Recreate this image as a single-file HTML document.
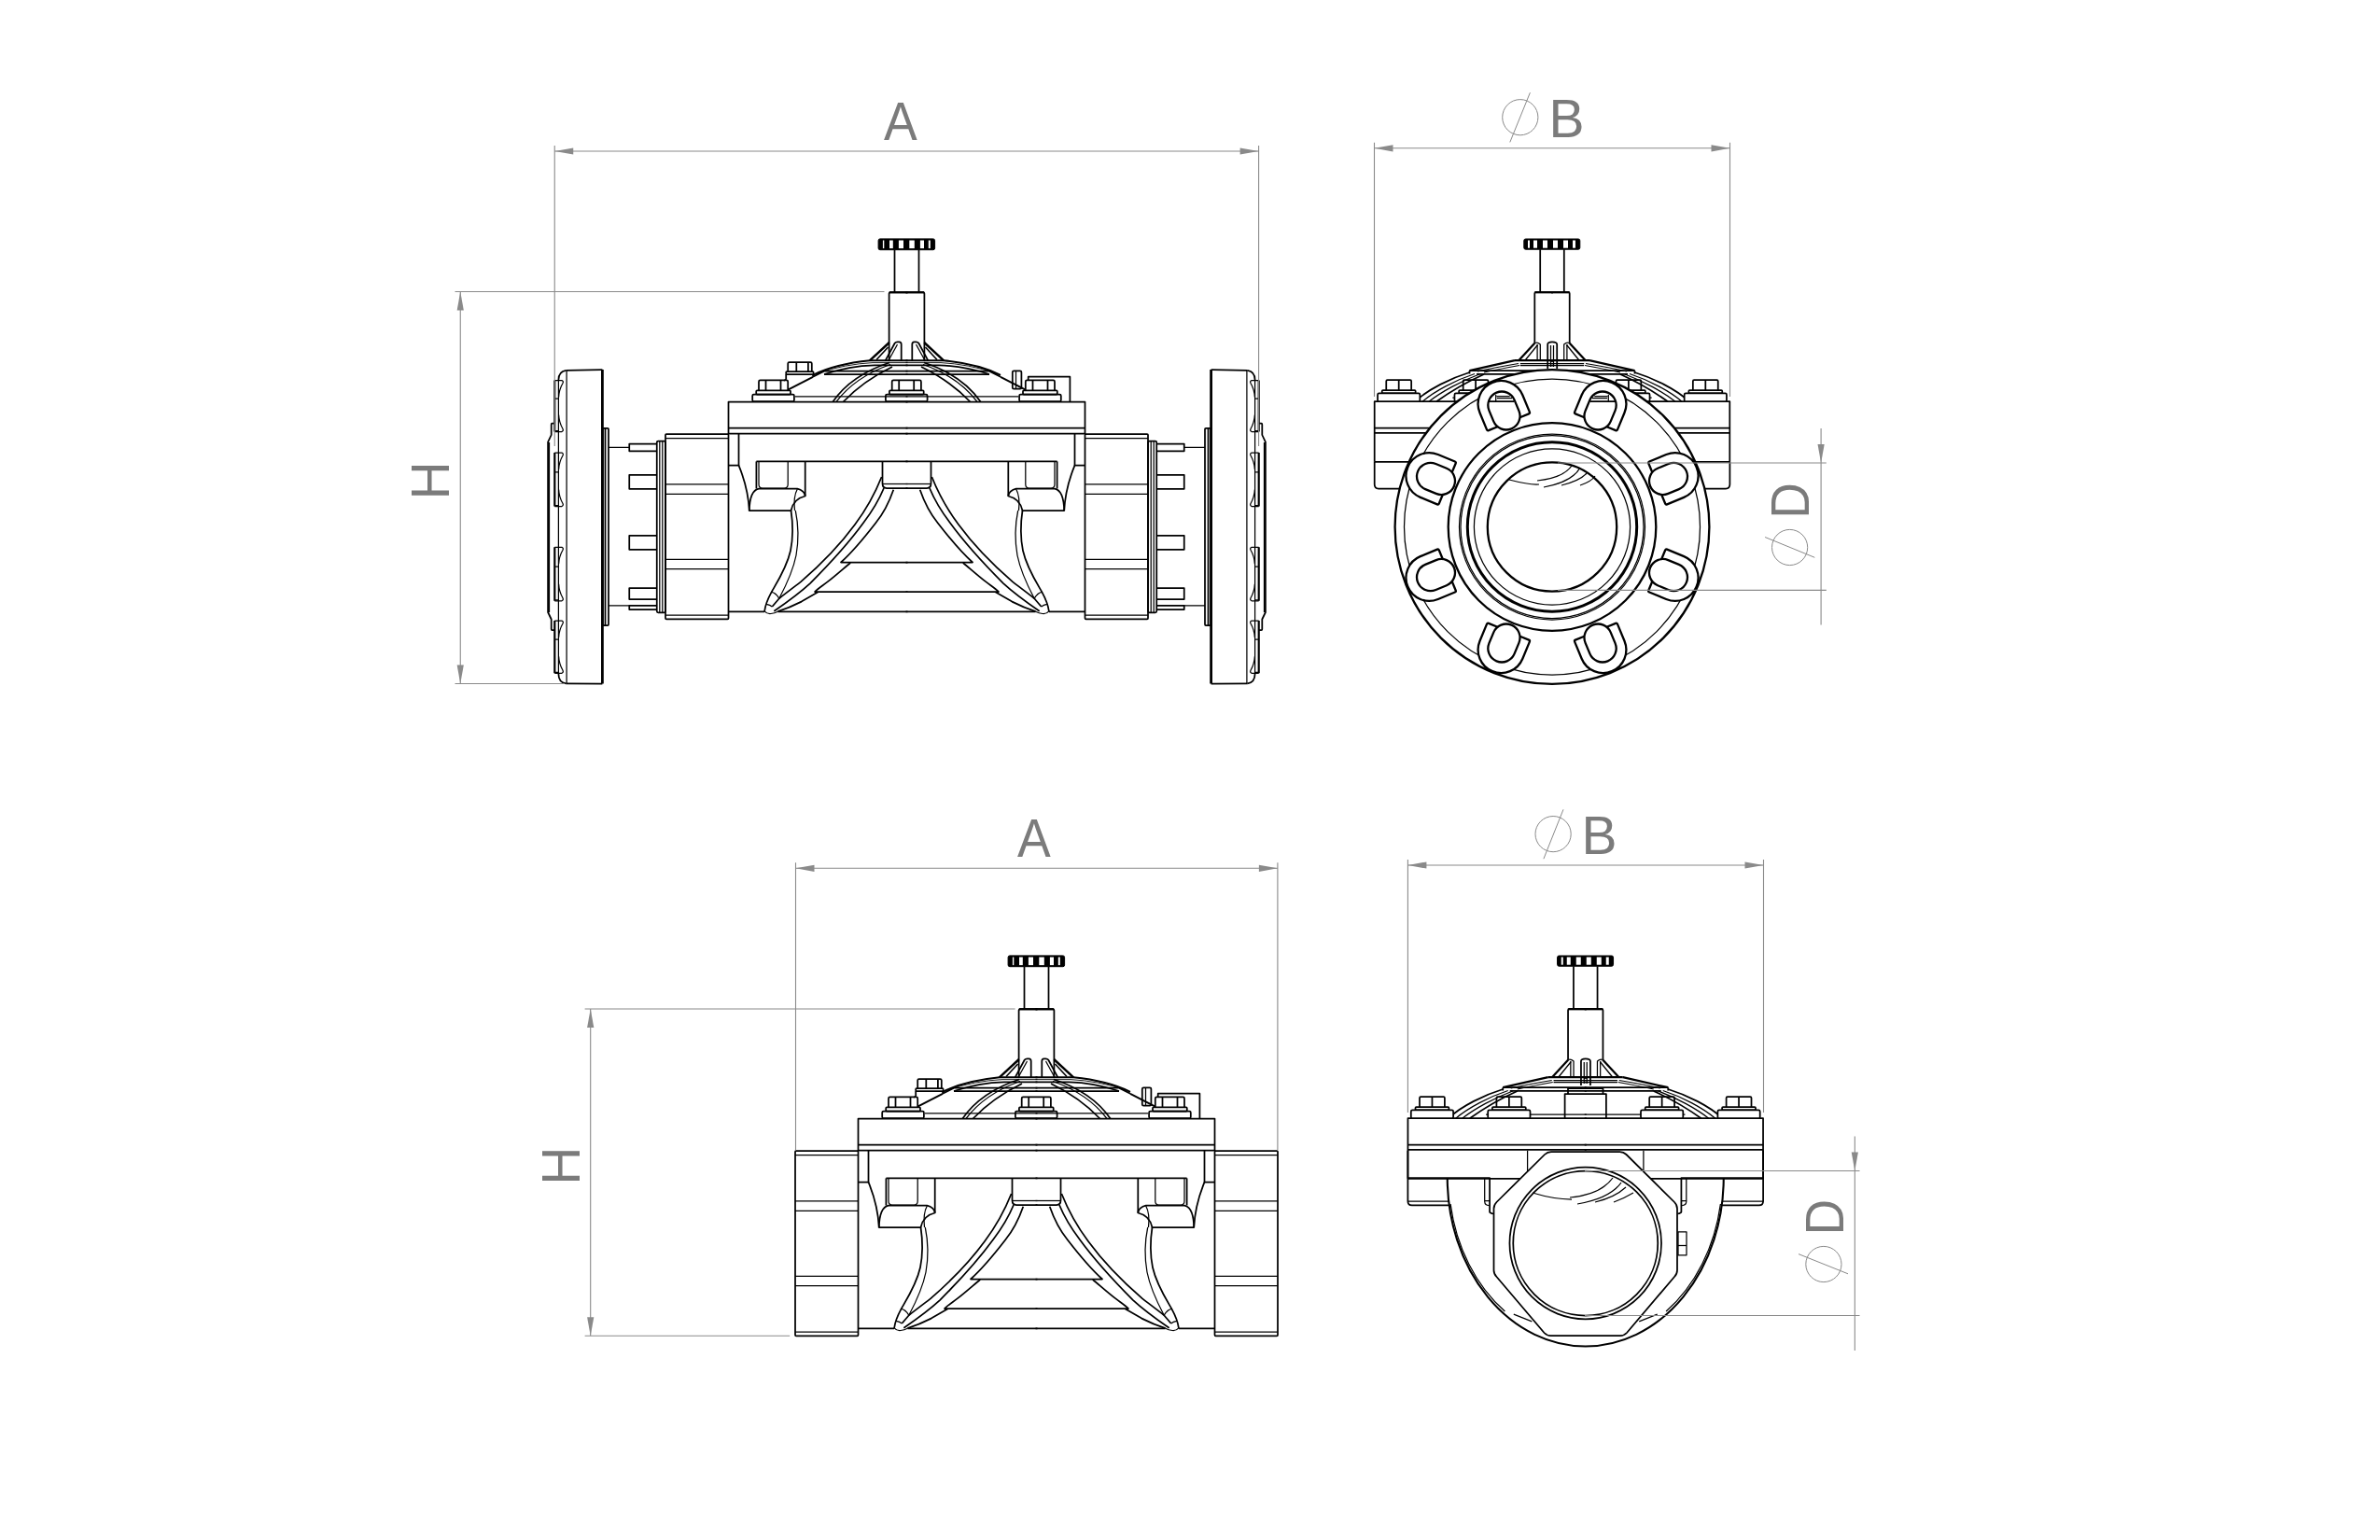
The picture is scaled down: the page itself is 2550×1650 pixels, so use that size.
<!DOCTYPE html>
<html><head><meta charset="utf-8"><style>
html,body{margin:0;padding:0;background:#fff;width:2550px;height:1650px;overflow:hidden;}
svg{display:block;}
</style></head><body>
<svg width="2550" height="1650" viewBox="0 0 2550 1650">
<defs>
<style>
.d { fill:none; stroke:#000; stroke-width:1.75; stroke-linejoin:round; stroke-linecap:butt; }
.t { stroke-width:1.25; }
.th { stroke-width:2.3; }
.k { fill:#000; stroke:#000; stroke-width:1; }
.dim { fill:none; stroke:#8a8a8a; stroke-width:1.1; }
.lt { fill:#7b7b7b; font-family:"Liberation Sans", sans-serif; }
</style>

<g id="sideHalf"><rect x="713" y="465" width="67.5" height="198.25" rx="1"/><line x1="713" y1="469.5" x2="780.5" y2="469.5" class="t"/><line x1="713" y1="518.75" x2="780.5" y2="518.75" class="t"/><line x1="713" y1="529.25" x2="780.5" y2="529.25" class="t"/><line x1="713" y1="599.25" x2="780.5" y2="599.25" class="t"/><line x1="713" y1="609.5" x2="780.5" y2="609.5" class="t"/><line x1="713" y1="659" x2="780.5" y2="659" class="t"/><path d="M780.5 464.5 V465"/><path d="M791.5 464.5 V498.6 H780.5"/><path d="M791.5 498.6 C797 512 802 530 802.8 547.5"/><path d="M810.4 494.4 H972.5"/><path d="M810.4 494.4 V523.5"/><path d="M813 494.4 V519 Q813 523 817 523 H840.2 Q844.2 523 844.2 519 V494.4" class="t"/><path d="M862.7 494.4 V531.5"/><path d="M802.8 547.5 C803 534 806 525 813 523.6 H854.3 C859 524.5 862.7 528 862.7 531.5 C856 533 849.5 538 847.5 547 H802.8"/><path d="M854.3 524 C851 530 850.5 538 851.5 547" class="t"/><path d="M847.5 547 C849.5 560 850 575 847 590 C843 608 832 625 826.6 634.4 C823 641 820 648 819.1 655"/><path d="M852.3 547 C855 560 856.5 575 853 595 C850 610 845 622 834.8 641.2" class="t"/><path d="M826.6 634.4 Q831 635 834.8 641.2 M821.1 647.3 Q825 648 827.3 650 M819.1 654.8 Q822 658 825.9 657.5 Q830 657 833.4 655.2" class="t"/><path d="M780.5 655.3 H819.1 M833.4 655.3 H972.5"/><path d="M945.5 494.4 V518 Q945.5 523 950 523 H972.5"/><path d="M945.5 518.5 H972.5" class="t"/><path d="M944.6 511 C935 535 925 550 916 562 C905 577 885 600 858 623.4 C848 631 840 637 834.8 641.2 L827.3 650"/><path d="M947 523 C940 540 932 551 925.2 560 C915 574 895 598 868.2 624.8 C855 637 842 646 829.3 654.8"/><path d="M957.3 524.8 C952 540 945 552 938.5 560 C930 571 915 590 901 602.5 H972.5"/><path d="M911.2 603 C905 608 895 617 886.6 623.4 C882 627 877 630 873 634 H972.5 M877 634 C870 638 865 641 858.7 644.6 C850 649 840 653 833.4 655.2"/><path d="M972.5 430.5 H780.5 V464.5 H972.5 M780.5 458.5 H972.5"/><path d="M972.5 313 H954 Q952.6 313 952.6 314.5 V386.5"/><path d="M972.5 313.3 H953" stroke-width="2.3"/><path d="M958.5 267.7 V313" /><path d="M952.75 367 L931.8 386.3" stroke-width="2.4"/><path d="M951.5 372 L939 385.5" stroke-width="1.6"/><path d="M948.6 386.3 L958.8 367.5 Q959.8 366.3 961.5 366.3 H963.5 Q965.7 366.3 965.7 369 V386.3"/><path d="M952 386.3 L961.5 369" class="t"/><path d="M844.7 417.3 L871 403.8" stroke-width="2"/><path d="M871 401.8 Q895 390 932 386.3 H972.5" stroke-width="2"/><path d="M871 403.8 L883 397.6 H972.5 M883 401 H972.5"/><path d="M875 400 Q906 390 935 388.6 H972.5" stroke-width="0.9"/><path d="M883 401 Q910 392 937 391.3 H972.5"/><path d="M852 424.8 H972.5" class="t"/><path d="M892.3 430.5 Q912 402 953 388.5"/><path d="M896 430.5 Q916 404 954 390.5" class="t"/><path d="M903.5 430.5 Q925 408 956 393"/><path d="M813 418.4 V408.9 Q813 407.4 814.5 407.4 H842.7 Q844.2 407.4 844.2 408.9 V418.4"/><path d="M820.5 407.4 V418.4 M836.5 407.4 V418.4"/><rect x="810.2" y="418.4" width="36.8" height="4.2" rx="1"/><rect x="806.2" y="422.59999999999997" width="44.7" height="7.6" rx="1.5"/></g>
<g id="side">
  <use href="#sideHalf"/>
  <use href="#sideHalf" transform="translate(1943.0,0) scale(-1,1)"/>
  <path d="M955.7 418.4 V408.9 Q955.7 407.4 957.2 407.4 H985.4000000000001 Q986.9000000000001 407.4 986.9000000000001 408.9 V418.4"/><path d="M963.2 407.4 V418.4 M979.2 407.4 V418.4"/><rect x="952.9000000000001" y="418.4" width="36.8" height="4.2" rx="1"/><rect x="948.9000000000001" y="422.59999999999997" width="44.7" height="7.6" rx="1.5"/><path d="M869.8 398 V389.6 Q869.8 388.1 868.3 388.1 H845.7 Q844.2 388.1 844.2 389.6 V398"/><path d="M853.3 388.1 V398 M865.9 388.1 V398"/><rect x="842.2" y="398.2" width="29.4" height="2.8" rx="0.8" fill="#fff"/><path d="M842.2 401 V406 Q842 407.6 839.9 407.6 M871.1 401 V403.6"/><path d="M1101.7 407.4 V403.7 H1146.4 V430.5"/><rect x="1084.8" y="397.3" width="9.6" height="19.4" rx="1.5"/><path d="M1088.5 398 V416" class="t"/><rect x="941.1" y="255.9" width="60.5" height="11.8" rx="1.8" class="k"/><rect x="945.9" y="257.5" width="1.3999999999999773" height="8.6" fill="#fff" stroke="none"/><rect x="953" y="257.5" width="3.7999999999999545" height="8.6" fill="#fff" stroke="none"/><rect x="962.9" y="257.5" width="5.100000000000023" height="8.6" fill="#fff" stroke="none"/><rect x="974.3" y="257.5" width="5.5" height="8.6" fill="#fff" stroke="none"/><rect x="985.9" y="257.5" width="4.100000000000023" height="8.6" fill="#fff" stroke="none"/><rect x="994.8" y="257.5" width="2.0" height="8.6" fill="#fff" stroke="none"/>
</g>

<g id="endHalf"><path d="M1664 312.9 H1645.7 Q1644.3 312.9 1644.3 314.4 V367.5"/><path d="M1664 313.2 H1644.8" stroke-width="2.3"/><path d="M1650.2 267.2 V312.9"/><path d="M1644.5 367.5 L1627.2 386.2" class="th"/><path d="M1647.5 369.5 L1634.5 385.5" class="t"/><path d="M1644.5 367.5 Q1647.5 366.5 1650.3 369 V386.2 M1647.1 369 V386.2" class="t"/><path d="M1623 386.2 H1664" class="th"/><path d="M1628.8 389.5 H1664 M1628.8 391.5 H1664" class="t"/><path d="M1623 386.2 L1574.5 397.2" class="th"/><path d="M1627 389.5 Q1600 394 1583 398 M1628 391.5 Q1605 395.5 1590 399" class="t"/><path d="M1574.5 397.2 H1664 M1574.5 397.2 V400.5 M1582 400.8 H1664" /><path d="M1574.5 399 C1555 405 1530 417 1516.5 430" /><path d="M1580 400.5 C1560 407 1537 419 1524 430.3 M1585 401 C1566 408 1544 420 1531 430.3" class="t"/><path d="M1590 401 C1572 409 1552 421 1539 430.3" /><path d="M1556.3 426 H1664" class="t"/><path d="M1664 430.1 H1472.7 V494.8"/><path d="M1472.7 458.5 H1664 M1472.7 463.9 H1664 M1472.7 494.8 H1664"/><path d="M1485.25 418.0 V408.4 Q1485.25 407.2 1486.45 407.2 H1510.95 Q1512.15 407.2 1512.15 408.4 V418.0"/><path d="M1498.7 407.2 V418.0"/><rect x="1480.75" y="418.0" width="35.9" height="3.4" rx="1" fill="#fff"/><rect x="1476.05" y="421.4" width="45.3" height="8.8" rx="1.5" fill="#fff"/><path d="M1567.65 418.0 V408.4 Q1567.65 407.2 1568.8500000000001 407.2 H1593.3500000000001 Q1594.5500000000002 407.2 1594.5500000000002 408.4 V418.0"/><path d="M1581.1000000000001 407.2 V418.0"/><rect x="1563.15" y="418.0" width="35.9" height="3.4" rx="1" fill="#fff"/><rect x="1558.45" y="421.4" width="45.3" height="8.8" rx="1.5" fill="#fff"/></g>
<g id="endTop">
  <use href="#endHalf"/>
  <use href="#endHalf" transform="translate(3326.0,0) scale(-1,1)"/>
  <path d="M1658.2 395 V369 Q1658.2 366.3 1663 366.3 Q1668.2 366.3 1668.2 369 V395" /><path d="M1661.5 370 V393 M1664.5 370 V393 M1661.5 387 H1664.5" class="t"/>
  <rect x="1632.8" y="256" width="60" height="11.2" rx="1.8" class="k"/>
  <rect x="1637" y="257.5" width="2" height="8.2" fill="#fff" stroke="none"/>
  <rect x="1643" y="257.5" width="4" height="8.2" fill="#fff" stroke="none"/>
  <rect x="1653" y="257.5" width="5" height="8.2" fill="#fff" stroke="none"/>
  <rect x="1664" y="257.5" width="5" height="8.2" fill="#fff" stroke="none"/>
  <rect x="1675" y="257.5" width="5" height="8.2" fill="#fff" stroke="none"/>
  <rect x="1685" y="257.5" width="3" height="8.2" fill="#fff" stroke="none"/>
</g>

</defs>
<rect width="2550" height="1650" fill="#fff"/>
<g class="d">
  <use href="#side"/>
  <rect x="703.75" y="472.5" width="9.25" height="183.75" rx="1.5"/><path d="M706.8 473 V656 M709.8 473 V656" class="t"/><path d="M703.75 475.5 H674.25 V483.25 H703.75"/><path d="M703.75 508.75 H674.25 V523.75 H703.75"/><path d="M703.75 573.75 H674.25 V588.75 H703.75"/><path d="M703.75 630 H674.25 V642 H703.75"/><path d="M703.75 648.75 H674.25 V653 H703.75"/><path d="M652 479.25 H674.25 M652 648.75 H674.25" class="t"/><rect x="645.75" y="458.75" width="6.25" height="211.25" rx="1"/><path d="M648.5 459 V670"/><path d="M606.4 396.8 L645.4 396.1"/><path d="M645.4 396.1 V732.6" stroke-width="2.8"/><path d="M606.4 732.4 L645.4 732.6"/><path d="M606.4 396.8 Q598.4 398 598.4 407 M606.4 732.4 Q598.4 731 598.4 722"/><path d="M607.1 396.8 V732.4" class="t"/><path d="M598.4 407 V722" class="t"/><path d="M594.3 407.5 V462.5" stroke-width="2.2"/><path d="M594.3 407.5 H602 Q604 408.5 603 410.5 Q599 417.5 598.6 425.5 M594.3 462.5 H602 Q604 461.5 603 459.5 Q599 452.5 598.6 444.5" class="t"/><path d="M594.3 427.0 H598 M594.3 461.5 H598" class="t"/><path d="M594.3 485 V542.5" stroke-width="2.2"/><path d="M594.3 485 H602 Q604 486 603 488 Q599 495 598.6 503 M594.3 542.5 H602 Q604 541.5 603 539.5 Q599 532.5 598.6 524.5" class="t"/><path d="M594.3 505.75 H598 M594.3 541.5 H598" class="t"/><path d="M594.3 586.25 V643.75" stroke-width="2.2"/><path d="M594.3 586.25 H602 Q604 587.25 603 589.25 Q599 596.25 598.6 604.25 M594.3 643.75 H602 Q604 642.75 603 640.75 Q599 633.75 598.6 625.75" class="t"/><path d="M594.3 607.0 H598 M594.3 642.75 H598" class="t"/><path d="M594.3 665 V721.25" stroke-width="2.2"/><path d="M594.3 665 H602 Q604 666 603 668 Q599 675 598.6 683 M594.3 721.25 H602 Q604 720.25 603 718.25 Q599 711.25 598.6 703.25" class="t"/><path d="M594.3 685.125 H598 M594.3 720.25 H598" class="t"/><path d="M594 453.6 H591.5 Q590.7 453.6 590.7 455 V466 L587.1 473.6 V656 L590.7 663.5 V674 Q590.7 675 591.5 675 H594"/><path d="M588.5 474 V656" class="t"/>
  <g transform="translate(1943.0,0) scale(-1,1)"><rect x="703.75" y="472.5" width="9.25" height="183.75" rx="1.5"/><path d="M706.8 473 V656 M709.8 473 V656" class="t"/><path d="M703.75 475.5 H674.25 V483.25 H703.75"/><path d="M703.75 508.75 H674.25 V523.75 H703.75"/><path d="M703.75 573.75 H674.25 V588.75 H703.75"/><path d="M703.75 630 H674.25 V642 H703.75"/><path d="M703.75 648.75 H674.25 V653 H703.75"/><path d="M652 479.25 H674.25 M652 648.75 H674.25" class="t"/><rect x="645.75" y="458.75" width="6.25" height="211.25" rx="1"/><path d="M648.5 459 V670"/><path d="M606.4 396.8 L645.4 396.1"/><path d="M645.4 396.1 V732.6" stroke-width="2.8"/><path d="M606.4 732.4 L645.4 732.6"/><path d="M606.4 396.8 Q598.4 398 598.4 407 M606.4 732.4 Q598.4 731 598.4 722"/><path d="M607.1 396.8 V732.4" class="t"/><path d="M598.4 407 V722" class="t"/><path d="M594.3 407.5 V462.5" stroke-width="2.2"/><path d="M594.3 407.5 H602 Q604 408.5 603 410.5 Q599 417.5 598.6 425.5 M594.3 462.5 H602 Q604 461.5 603 459.5 Q599 452.5 598.6 444.5" class="t"/><path d="M594.3 427.0 H598 M594.3 461.5 H598" class="t"/><path d="M594.3 485 V542.5" stroke-width="2.2"/><path d="M594.3 485 H602 Q604 486 603 488 Q599 495 598.6 503 M594.3 542.5 H602 Q604 541.5 603 539.5 Q599 532.5 598.6 524.5" class="t"/><path d="M594.3 505.75 H598 M594.3 541.5 H598" class="t"/><path d="M594.3 586.25 V643.75" stroke-width="2.2"/><path d="M594.3 586.25 H602 Q604 587.25 603 589.25 Q599 596.25 598.6 604.25 M594.3 643.75 H602 Q604 642.75 603 640.75 Q599 633.75 598.6 625.75" class="t"/><path d="M594.3 607.0 H598 M594.3 642.75 H598" class="t"/><path d="M594.3 665 V721.25" stroke-width="2.2"/><path d="M594.3 665 H602 Q604 666 603 668 Q599 675 598.6 683 M594.3 721.25 H602 Q604 720.25 603 718.25 Q599 711.25 598.6 703.25" class="t"/><path d="M594.3 685.125 H598 M594.3 720.25 H598" class="t"/><path d="M594 453.6 H591.5 Q590.7 453.6 590.7 455 V466 L587.1 473.6 V656 L590.7 663.5 V674 Q590.7 675 591.5 675 H594"/><path d="M588.5 474 V656" class="t"/></g>
  <use href="#side" transform="translate(139,768)"/>
  <use href="#endTop"/>
  <use href="#endTop" transform="translate(35.75,768)"/>
  <path d="M1472.7 494.8 V519 Q1472.7 523.5 1477 523.5 H1849 Q1853.4 523.5 1853.4 519 V494.8"/><circle cx="1663.0" cy="564.5" r="168.4" fill="#fff" class="th"/><circle cx="1663.0" cy="564.5" r="158.5" class="t"/><circle cx="1663.0" cy="564.5" r="111.3" class="th"/><circle cx="1663.0" cy="564.5" r="99.5" class="t"/><circle cx="1663.0" cy="564.5" r="98" class="t"/><circle cx="1663.0" cy="564.5" r="90.7" stroke-width="3"/><circle cx="1663.0" cy="564.5" r="83.6" class="t"/><circle cx="1663.0" cy="564.5" r="69.2" class="th"/><path d="M1617 514 Q1640 520 1649 519" class="t"/><path d="M1647 515 Q1675 512 1684 499 M1654 522 Q1685 516 1693 501 M1673 520 Q1693 515 1700 507 M1693 520 Q1705 516 1709 510" class="t"/><g transform="translate(1663.0,564.5) rotate(-157.5)"><path d="M-13 -121.5 H-24.8 V-142.6 A24.8 24.8 0 0 1 24.8 -142.6 V-121.5 H13 Z" fill="#fff" stroke="none"/><path d="M-13 -121.5 H-23.3 Q-24.8 -121.5 -24.8 -123 V-142.6 A24.8 24.8 0 0 1 24.8 -142.6 V-123 Q24.8 -121.5 23.3 -121.5 H13" class="th"/><path d="M-14.7 -128.5 V-141 A14.7 14.7 0 0 1 14.7 -141 V-128.5 A14.7 14.7 0 0 1 -14.7 -128.5 Z" fill="#fff" class="th"/></g><g transform="translate(1663.0,564.5) rotate(-112.5)"><path d="M-13 -121.5 H-24.8 V-142.6 A24.8 24.8 0 0 1 24.8 -142.6 V-121.5 H13 Z" fill="#fff" stroke="none"/><path d="M-13 -121.5 H-23.3 Q-24.8 -121.5 -24.8 -123 V-142.6 A24.8 24.8 0 0 1 24.8 -142.6 V-123 Q24.8 -121.5 23.3 -121.5 H13" class="th"/><path d="M-14.7 -128.5 V-141 A14.7 14.7 0 0 1 14.7 -141 V-128.5 A14.7 14.7 0 0 1 -14.7 -128.5 Z" fill="#fff" class="th"/></g><g transform="translate(1663.0,564.5) rotate(-67.5)"><path d="M-13 -121.5 H-24.8 V-142.6 A24.8 24.8 0 0 1 24.8 -142.6 V-121.5 H13 Z" fill="#fff" stroke="none"/><path d="M-13 -121.5 H-23.3 Q-24.8 -121.5 -24.8 -123 V-142.6 A24.8 24.8 0 0 1 24.8 -142.6 V-123 Q24.8 -121.5 23.3 -121.5 H13" class="th"/><path d="M-14.7 -128.5 V-141 A14.7 14.7 0 0 1 14.7 -141 V-128.5 A14.7 14.7 0 0 1 -14.7 -128.5 Z" fill="#fff" class="th"/></g><g transform="translate(1663.0,564.5) rotate(-22.5)"><path d="M-13 -121.5 H-24.8 V-142.6 A24.8 24.8 0 0 1 24.8 -142.6 V-121.5 H13 Z" fill="#fff" stroke="none"/><path d="M-13 -121.5 H-23.3 Q-24.8 -121.5 -24.8 -123 V-142.6 A24.8 24.8 0 0 1 24.8 -142.6 V-123 Q24.8 -121.5 23.3 -121.5 H13" class="th"/><path d="M-14.7 -128.5 V-141 A14.7 14.7 0 0 1 14.7 -141 V-128.5 A14.7 14.7 0 0 1 -14.7 -128.5 Z" fill="#fff" class="th"/></g><g transform="translate(1663.0,564.5) rotate(22.5)"><path d="M-13 -121.5 H-24.8 V-142.6 A24.8 24.8 0 0 1 24.8 -142.6 V-121.5 H13 Z" fill="#fff" stroke="none"/><path d="M-13 -121.5 H-23.3 Q-24.8 -121.5 -24.8 -123 V-142.6 A24.8 24.8 0 0 1 24.8 -142.6 V-123 Q24.8 -121.5 23.3 -121.5 H13" class="th"/><path d="M-14.7 -128.5 V-141 A14.7 14.7 0 0 1 14.7 -141 V-128.5 A14.7 14.7 0 0 1 -14.7 -128.5 Z" fill="#fff" class="th"/></g><g transform="translate(1663.0,564.5) rotate(67.5)"><path d="M-13 -121.5 H-24.8 V-142.6 A24.8 24.8 0 0 1 24.8 -142.6 V-121.5 H13 Z" fill="#fff" stroke="none"/><path d="M-13 -121.5 H-23.3 Q-24.8 -121.5 -24.8 -123 V-142.6 A24.8 24.8 0 0 1 24.8 -142.6 V-123 Q24.8 -121.5 23.3 -121.5 H13" class="th"/><path d="M-14.7 -128.5 V-141 A14.7 14.7 0 0 1 14.7 -141 V-128.5 A14.7 14.7 0 0 1 -14.7 -128.5 Z" fill="#fff" class="th"/></g><g transform="translate(1663.0,564.5) rotate(112.5)"><path d="M-13 -121.5 H-24.8 V-142.6 A24.8 24.8 0 0 1 24.8 -142.6 V-121.5 H13 Z" fill="#fff" stroke="none"/><path d="M-13 -121.5 H-23.3 Q-24.8 -121.5 -24.8 -123 V-142.6 A24.8 24.8 0 0 1 24.8 -142.6 V-123 Q24.8 -121.5 23.3 -121.5 H13" class="th"/><path d="M-14.7 -128.5 V-141 A14.7 14.7 0 0 1 14.7 -141 V-128.5 A14.7 14.7 0 0 1 -14.7 -128.5 Z" fill="#fff" class="th"/></g><g transform="translate(1663.0,564.5) rotate(157.5)"><path d="M-13 -121.5 H-24.8 V-142.6 A24.8 24.8 0 0 1 24.8 -142.6 V-121.5 H13 Z" fill="#fff" stroke="none"/><path d="M-13 -121.5 H-23.3 Q-24.8 -121.5 -24.8 -123 V-142.6 A24.8 24.8 0 0 1 24.8 -142.6 V-123 Q24.8 -121.5 23.3 -121.5 H13" class="th"/><path d="M-14.7 -128.5 V-141 A14.7 14.7 0 0 1 14.7 -141 V-128.5 A14.7 14.7 0 0 1 -14.7 -128.5 Z" fill="#fff" class="th"/></g><path d="M1596 430.1 H1622 M1704 430.1 H1730"/><path d="M1603.6 424.5 H1617.7 M1604 426.6 H1620 M1602.7 423 V430 M1708.3 424.5 H1722.4 M1706 426.6 H1722 M1723.3 423 V430" class="t"/>
  <path d="M1508.4 1232.7 V1287 Q1508.4 1291.4 1512.8 1291.4 H1552.5 M1889.1 1232.7 V1287 Q1889.1 1291.4 1884.7 1291.4 H1845"/><path d="M1508.4 1287 H1552.5 M1889.1 1287 H1845" class="t"/><path d="M1508.4 1262 H1596.1 V1298.6 Q1596.5 1300 1600 1300.5 M1889.1 1262 H1801.4 V1298.6 Q1801 1300 1797.5 1300.5"/><path d="M1590.7 1262 V1287.5 Q1591 1291.5 1595.4 1291.5 M1590.7 1286.7 H1596.1 M1806.8 1262 V1287.5 Q1806.5 1291.5 1802.1 1291.5 M1806.8 1286.7 H1801.4" class="t"/><path d="M1550.75 1262 A148 180.5 0 0 0 1698.75 1442.5 A148 180.5 0 0 0 1846.75 1262" stroke-width="2.1"/><path d="M1554.1 1290 A146.5 177 0 0 0 1612.4 1405 M1843.4 1290 A146.5 177 0 0 1 1785.1 1405 M1621.8 1408.1 L1641.3 1415.9 M1775.7 1408.1 L1756.2 1415.9" class="t"/><path d="M1662 1234.1 H1735.5 Q1739.5 1234.1 1742.5 1237 L1794 1288 Q1797 1291 1797 1295 V1361 Q1797 1365 1794 1368 L1743 1428 Q1740 1431.1 1736 1431.1 H1661.5 Q1657.5 1431.1 1654.5 1428 L1603.5 1368 Q1600.5 1365 1600.5 1361 V1295 Q1600.5 1291 1603.5 1288 L1655 1237 Q1658 1234.1 1662 1234.1 Z" fill="#fff"/><path d="M1636.6 1232.7 V1255 M1760.9 1232.7 V1255" class="t"/><circle cx="1698.75" cy="1332" r="81.3"/><circle cx="1698.75" cy="1332" r="77.5"/><path d="M1642 1278 Q1665 1285 1684 1285 M1682 1283 Q1715 1280 1728 1262 M1690 1290 Q1725 1284 1737 1267 M1709 1288 Q1730 1283 1742 1272 M1729 1288 Q1740 1284 1750 1278" class="t"/><rect x="1798" y="1319.8" width="9" height="25" class="t"/><path d="M1798 1334.5 H1807" class="t"/><path d="M1676.6 1198.2 V1172 H1720.9 V1198.2 M1680 1172 V1166 H1717.5 V1172" />
</g>
<g class="dim"><path d="M594.25 156 V478 M1348.6 156 V478 M594.25 162 H1348.6"/><polygon points="594.25,162 614.25,158.4 614.25,165.6" fill="#8a8a8a" stroke="none"/><polygon points="1348.6,162 1328.6,158.4 1328.6,165.6" fill="#8a8a8a" stroke="none"/><path d="M487.5 312.5 H947.5 M487.5 732.5 H605 M493.25 312.5 V732.5"/><polygon points="493.25,312.5 489.65,332.5 496.85,332.5" fill="#8a8a8a" stroke="none"/><polygon points="493.25,732.5 489.65,712.5 496.85,712.5" fill="#8a8a8a" stroke="none"/><path d="M1472.5 152.8 V425 M1853.5 152.8 V425 M1472.5 158.8 H1853.5"/><polygon points="1472.5,158.8 1492.5,155.20000000000002 1492.5,162.4" fill="#8a8a8a" stroke="none"/><polygon points="1853.5,158.8 1833.5,155.20000000000002 1833.5,162.4" fill="#8a8a8a" stroke="none"/><path d="M1669 496 H1956.8 M1669 632.4 H1956.8 M1951.1 458.9 V669.5"/><polygon points="1951.1,496 1947.5,476 1954.6999999999998,476" fill="#8a8a8a" stroke="none"/><path d="M852.5 924.2 V1232 M1368.9 924.2 V1232 M852.5 930.3 H1368.9"/><polygon points="852.5,930.3 872.5,926.6999999999999 872.5,933.9" fill="#8a8a8a" stroke="none"/><polygon points="1368.9,930.3 1348.9,926.6999999999999 1348.9,933.9" fill="#8a8a8a" stroke="none"/><path d="M626.6 1081 H1087.6 M626.6 1431.2 H846.2 M632.7 1081 V1431.2"/><polygon points="632.7,1081 629.1,1101 636.3000000000001,1101" fill="#8a8a8a" stroke="none"/><polygon points="632.7,1431.2 629.1,1411.2 636.3000000000001,1411.2" fill="#8a8a8a" stroke="none"/><path d="M1508.4 920.9 V1192 M1889.5 920.9 V1192 M1508.4 927 H1889.5"/><polygon points="1508.4,927 1528.4,923.4 1528.4,930.6" fill="#8a8a8a" stroke="none"/><polygon points="1889.5,927 1869.5,923.4 1869.5,930.6" fill="#8a8a8a" stroke="none"/><path d="M1698 1254.5 H1992.5 M1698 1409.5 H1992.5 M1987.3 1217.5 V1447"/><polygon points="1987.3,1254.5 1983.7,1234.5 1990.8999999999999,1234.5" fill="#8a8a8a" stroke="none"/><circle cx="1628.8" cy="125.7" r="19.1" stroke-width="1"/><path d="M1617.8 152.4 L1639.4 99.2" stroke-width="1"/><circle cx="1917.6" cy="586.5" r="19.1" stroke-width="1"/><path d="M1891.1 575.5 L1944.3 597.3" stroke-width="1"/><circle cx="1664.1" cy="893.6" r="19.1" stroke-width="1"/><path d="M1653.9 920.2 L1675 867.3" stroke-width="1"/><circle cx="1953.9" cy="1354.5" r="19.1" stroke-width="1"/><path d="M1927 1343.6 L1980 1364.8" stroke-width="1"/></g>
<g class="lt"><text x="0" y="0" font-size="57" transform="translate(947,150) rotate(0) scale(0.94,1)">A</text><text x="0" y="0" font-size="57" transform="translate(1659.5,146.9) rotate(0) scale(1.0,1)">B</text><text x="0" y="0" font-size="57" transform="translate(1090.1,918.4) rotate(0) scale(0.94,1)">A</text><text x="0" y="0" font-size="57" transform="translate(1694.4,914.5) rotate(0) scale(1.0,1)">B</text><text x="0" y="0" font-size="57" transform="translate(481,535.5) rotate(-90) scale(1.0,1)">H</text><text x="0" y="0" font-size="57" transform="translate(620.8,1269.7) rotate(-90) scale(1.0,1)">H</text><text x="0" y="0" font-size="57" transform="translate(1937.9,555.4) rotate(-90) scale(0.93,1)">D</text><text x="0" y="0" font-size="57" transform="translate(1975,1323.3) rotate(-90) scale(0.93,1)">D</text></g>
</svg>
</body></html>
